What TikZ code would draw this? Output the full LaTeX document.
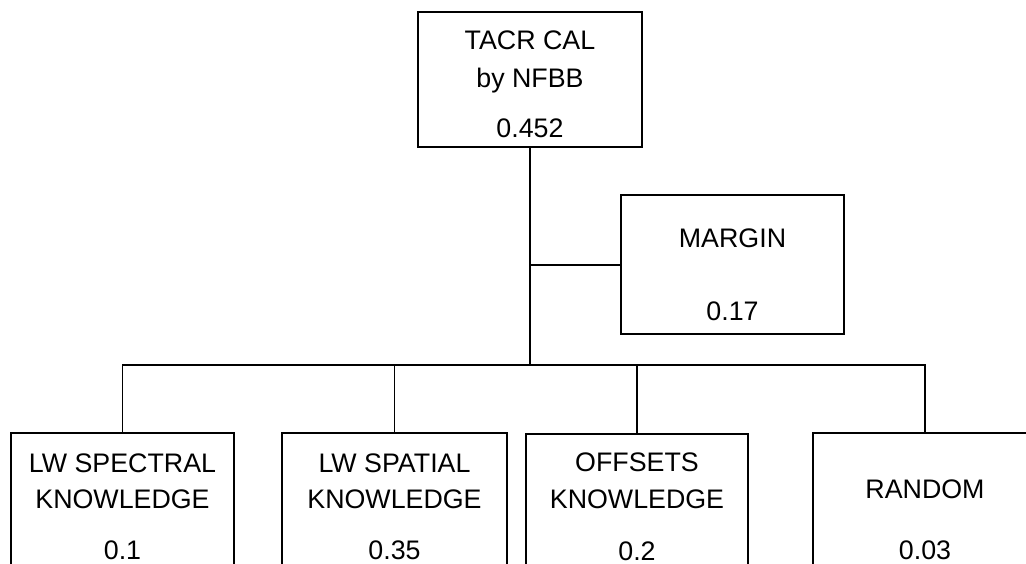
\documentclass[tikz,border=0pt]{standalone}
\usepackage{fontspec}
\setmainfont{Liberation Sans}
\begin{document}
\begin{tikzpicture}[x=1pt,y=-1pt,
  box/.style={draw=black,line width=1.2pt,fill=none,inner sep=0pt,outer sep=0pt,anchor=north west},
  txt/.style={anchor=base,inner sep=0pt,font=\fontsize{26.8}{30}\selectfont},
  wire/.style={draw=black,line width=1.2pt}]
\useasboundingbox (0,0) rectangle (1026,564);

% boxes (drawn as sized rectangles, top-left anchored)
\node[box,minimum width=224pt,minimum height=135pt] (top) at (418,12) {};
\node[box,minimum width=223pt,minimum height=139pt] (margin) at (621,195) {};
\node[box,minimum width=223pt,minimum height=170pt] (b1) at (11,433) {};
\node[box,minimum width=225pt,minimum height=170pt] (b2) at (282,433) {};
\node[box,minimum width=222pt,minimum height=170pt] (b3) at (526,434) {};
\node[box,minimum width=224pt,minimum height=170pt] (b4) at (813,433) {};

% labels
\node[txt] (t1) at (530,50) {TACR CAL};
\node[txt] (t2) at (530,88) {by NFBB};
\node[txt] (t3) at (530,138) {0.452};

\node[txt] (m1) at (732.5,248) {MARGIN};
\node[txt] (m2) at (732.5,320) {0.17};

\node[txt] (a1) at (122.5,472) {LW SPECTRAL};
\node[txt] (a2) at (122.5,508) {KNOWLEDGE};
\node[txt] (a3) at (122.5,559) {0.1};

\node[txt] (c1) at (394.5,472) {LW SPATIAL};
\node[txt] (c2) at (394.5,508) {KNOWLEDGE};
\node[txt] (c3) at (394.5,559) {0.35};

\node[txt] (d1) at (637,471) {OFFSETS};
\node[txt] (d2) at (637,508) {KNOWLEDGE};
\node[txt] (d3) at (637,560) {0.2};

\node[txt] (e1) at (925,498) {RANDOM};
\node[txt] (e2) at (925,559) {0.03};

% connectors
\coordinate (bus) at (530,365);
\coordinate (mj) at (530,265);
\draw[wire] (top.south) -- (bus);
\draw[wire] (mj) -- (mj -| margin.west);
\draw[wire] (b1.north) |- (bus) -| (b4.north);
\draw[wire] (b2.north) -- (b2.north |- bus);
\draw[wire] (b3.north) -- (b3.north |- bus);
\end{tikzpicture}
\end{document}
